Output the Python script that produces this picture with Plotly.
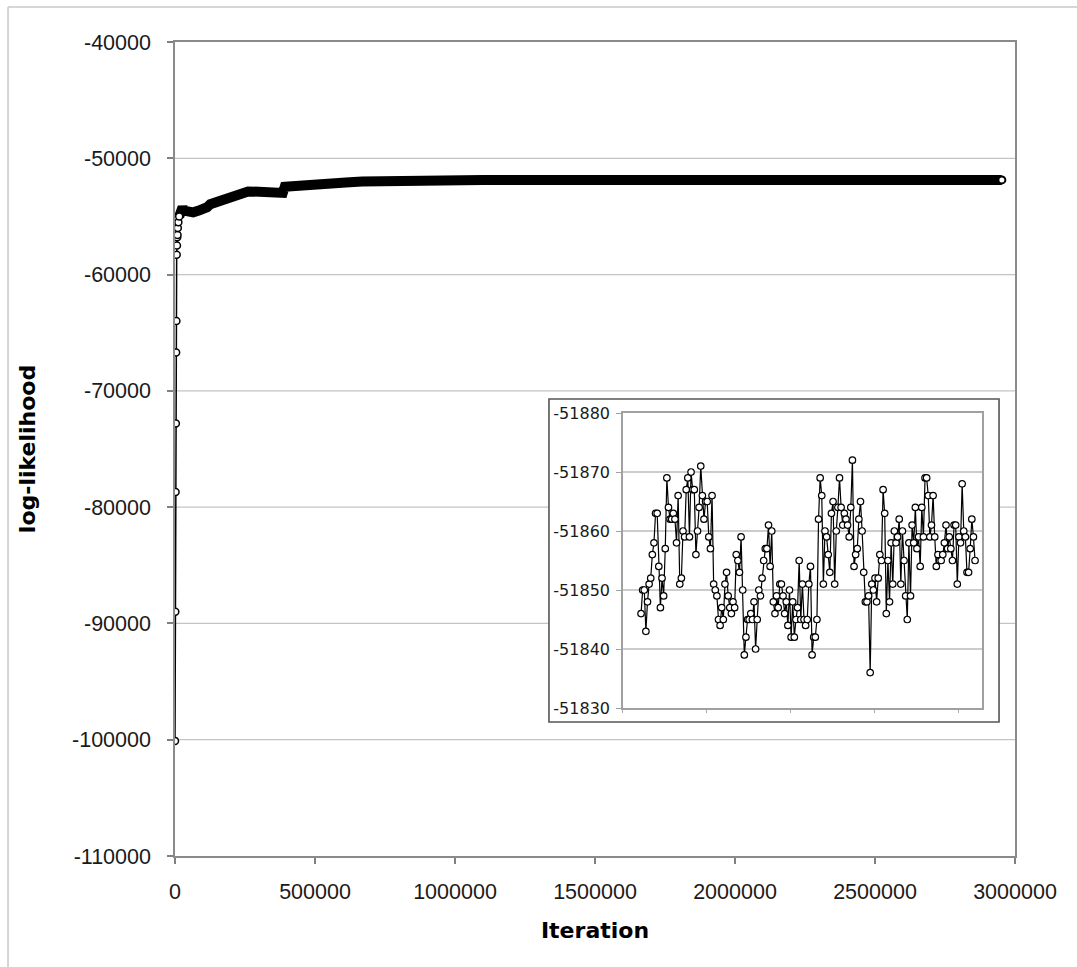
import plotly.graph_objects as go

# ---------------- data ----------------
main_iter = [0, 1000, 2000, 3000, 4000, 5000, 6000, 7000, 8000, 9000, 10000, 12000, 15000,
             18000, 22000, 27000, 32000, 45000, 65000, 85000, 100000, 115000, 126000, 145000,
             163000, 190000, 212000, 240000, 261000, 300000, 336000, 370000, 385000, 392000,
             430000, 483000, 520000, 557000, 610000, 668000, 730000, 791000, 870000, 975000,
             1100000, 1300000, 1600000, 2000000, 2400000, 2800000, 2953000]
main_ll = [-100100, -89000, -78700, -72800, -66700, -64000, -58300, -57500, -56800, -56600,
           -56000, -55500, -55000, -54700, -54300, -54200, -54500, -54600, -54650, -54500,
           -54450, -54200, -53950, -53800, -53650, -53400, -53200, -53000, -52850, -52880,
           -52920, -52950, -52980, -52450, -52350, -52250, -52200, -52150, -52080, -52000,
           -51950, -51920, -51890, -51870, -51860, -51860, -51860, -51860, -51860, -51860,
           -51860]

inset_ll = [
    -51846, -51850, -51850, -51843, -51848, -51851, -51852, -51856, -51858, -51863,
    -51863, -51854, -51847, -51852, -51849, -51857, -51869, -51864, -51862, -51862,
    -51863, -51862, -51858, -51866, -51851, -51852, -51860, -51859, -51867, -51869,
    -51859, -51870, -51867, -51867, -51856, -51860, -51864, -51871, -51866, -51862,
    -51865, -51865, -51859, -51857, -51866, -51851, -51850, -51849, -51845, -51844,
    -51847, -51845, -51851, -51853, -51849, -51847, -51846, -51848, -51847, -51856,
    -51855, -51853, -51859, -51850, -51839, -51842, -51845, -51845, -51846, -51845,
    -51848, -51840, -51845, -51850, -51849, -51852, -51855, -51857, -51857, -51861,
    -51854, -51860, -51848, -51846, -51849, -51847, -51851, -51851, -51849, -51846,
    -51848, -51844, -51850, -51842, -51848, -51842, -51845, -51847, -51855, -51845,
    -51851, -51845, -51844, -51845, -51851, -51854, -51839, -51842, -51842, -51845,
    -51862, -51869, -51866, -51851, -51860, -51859, -51856, -51853, -51863, -51865,
    -51851, -51860, -51864, -51869,
    -51864, -51861, -51863, -51862, -51861, -51859, -51864, -51872, -51854, -51856,
    -51857, -51862, -51865, -51860, -51853, -51848, -51848, -51849, -51836, -51851,
    -51850, -51852, -51848, -51852, -51856, -51855, -51867, -51863, -51846, -51855,
    -51848, -51858, -51851, -51860, -51858, -51859, -51862, -51851, -51860, -51855,
    -51849, -51845, -51858,
    -51849, -51861, -51858, -51864, -51857, -51859, -51854, -51864, -51859, -51869,
    -51869, -51866, -51859, -51861, -51866, -51859, -51854, -51856, -51855, -51855,
    -51856, -51858, -51861, -51857, -51859, -51857, -51855, -51861, -51861, -51851,
    -51859, -51858, -51868, -51860, -51859, -51853, -51853, -51857, -51862, -51859,
    -51855]
inset_idx = list(range(1, len(inset_ll) + 1))

main_xticks = [0, 500000, 1000000, 1500000, 2000000, 2500000, 3000000]
main_xlabels = ["0", "500000", "1000000", "1500000", "2000000", "2500000", "3000000"]
main_yticks = [-40000, -50000, -60000, -70000, -80000, -90000, -100000, -110000]
main_ylabels = ["-40000", "-50000", "-60000", "-70000", "-80000", "-90000", "-100000", "-110000"]
inset_yticks = [-51880, -51870, -51860, -51850, -51840, -51830]
inset_ylabels = ["-51880", "-51870", "-51860", "-51850", "-51840", "-51830"]

# ---------------- figure ----------------
fig = go.Figure()

n_early = 13
fig.add_trace(go.Scatter(
    x=main_iter[n_early - 1:], y=main_ll[n_early - 1:], mode="lines",
    line=dict(color="black", width=10), showlegend=False, hoverinfo="skip"))
fig.add_trace(go.Scatter(
    x=main_iter[:n_early], y=main_ll[:n_early], mode="lines+markers",
    line=dict(color="black", width=1.5),
    marker=dict(symbol="circle", size=7, color="white", line=dict(color="black", width=1.5)),
    showlegend=False))
fig.add_trace(go.Scatter(
    x=main_iter[-1:], y=main_ll[-1:], mode="markers",
    marker=dict(symbol="circle", size=7, color="white", line=dict(color="black", width=2)),
    showlegend=False))

fig.add_trace(go.Scatter(
    x=inset_idx, y=inset_ll, xaxis="x2", yaxis="y2", mode="lines+markers",
    line=dict(color="black", width=1.2),
    marker=dict(symbol="circle", size=6.5, color="white", line=dict(color="black", width=1.2)),
    showlegend=False))

shapes = []
# main gridlines (drawn as shapes so the inset box can cover them)
for v in main_yticks[1:-1]:
    shapes.append(dict(type="line", xref="paper", yref="y", x0=0, x1=1, y0=v, y1=v,
                       line=dict(color="#c4c4c4", width=1.2), layer="below"))
# inset frame
shapes.append(dict(type="rect", xref="paper", yref="paper",
                   x0=0.4452, x1=0.9810, y0=0.1646, y1=0.5614,
                   line=dict(color="#555555", width=1.6), fillcolor="white", layer="below"))
# outer chart border (top and left)
shapes.append(dict(type="line", xref="paper", yref="paper", x0=-0.1988, x1=1.08, y0=1.043, y1=1.043,
                   line=dict(color="#c8c8c8", width=1.5), layer="below"))
shapes.append(dict(type="line", xref="paper", yref="paper", x0=-0.1988, x1=-0.1988, y0=-0.2, y1=1.043,
                   line=dict(color="#c8c8c8", width=1.5), layer="below"))

tickfont_main = dict(family="Liberation Sans, Arial, sans-serif", size=21.5, color="#1a1a1a")
titlefont = dict(family="DejaVu Sans, Verdana, sans-serif", size=22, color="black", weight="bold")

fig.update_layout(
    width=1077, height=967, autosize=False,
    margin=dict(l=175, r=62, t=42, b=111),
    paper_bgcolor="white", plot_bgcolor="rgba(0,0,0,0)",
    shapes=shapes,
    xaxis=dict(range=[0, 3000000], tickvals=main_xticks, ticktext=main_xlabels,
               ticks="outside", ticklen=6, tickcolor="#808080", tickwidth=1.5,
               showgrid=False, zeroline=False, showline=True, mirror=True,
               linecolor="#8a8a8a", linewidth=1.5, tickfont=tickfont_main,
               ticklabelstandoff=9,
               title=dict(text="Iteration", font=titlefont, standoff=20)),
    yaxis=dict(range=[-110000, -40000], tickvals=main_yticks, ticktext=main_ylabels,
               ticks="outside", ticklen=6, tickcolor="#808080", tickwidth=1.5,
               showgrid=False, zeroline=False, showline=True, mirror=True,
               linecolor="#8a8a8a", linewidth=1.5, tickfont=tickfont_main,
               ticklabelstandoff=12,
               title=dict(text="log-likelihood", font=titlefont, standoff=30)),
    xaxis2=dict(domain=[0.5333, 0.9607], anchor="y2", range=[-10.2, 212.3],
                tick0=-10.2, dtick=52, showticklabels=False, ticks="outside", ticklen=3,
                tickcolor="#aaaaaa", showgrid=False, zeroline=False, showline=True,
                mirror=True, linecolor="#a0a0a0", linewidth=1.5),
    yaxis2=dict(domain=[0.1818, 0.5442], anchor="x2", range=[-51830, -51880],
                tickvals=inset_yticks, ticktext=inset_ylabels, ticks="outside", ticklen=5,
                tickcolor="#a0a0a0", showgrid=True, gridcolor="#cccccc", gridwidth=1.5,
                zeroline=False, showline=True, mirror=True, linecolor="#a0a0a0",
                linewidth=1.5, ticklabelstandoff=3,
                tickfont=dict(family="DejaVu Sans, Verdana, sans-serif", size=16,
                              color="#1a1a1a")),
)

fig.write_html("out.html")
